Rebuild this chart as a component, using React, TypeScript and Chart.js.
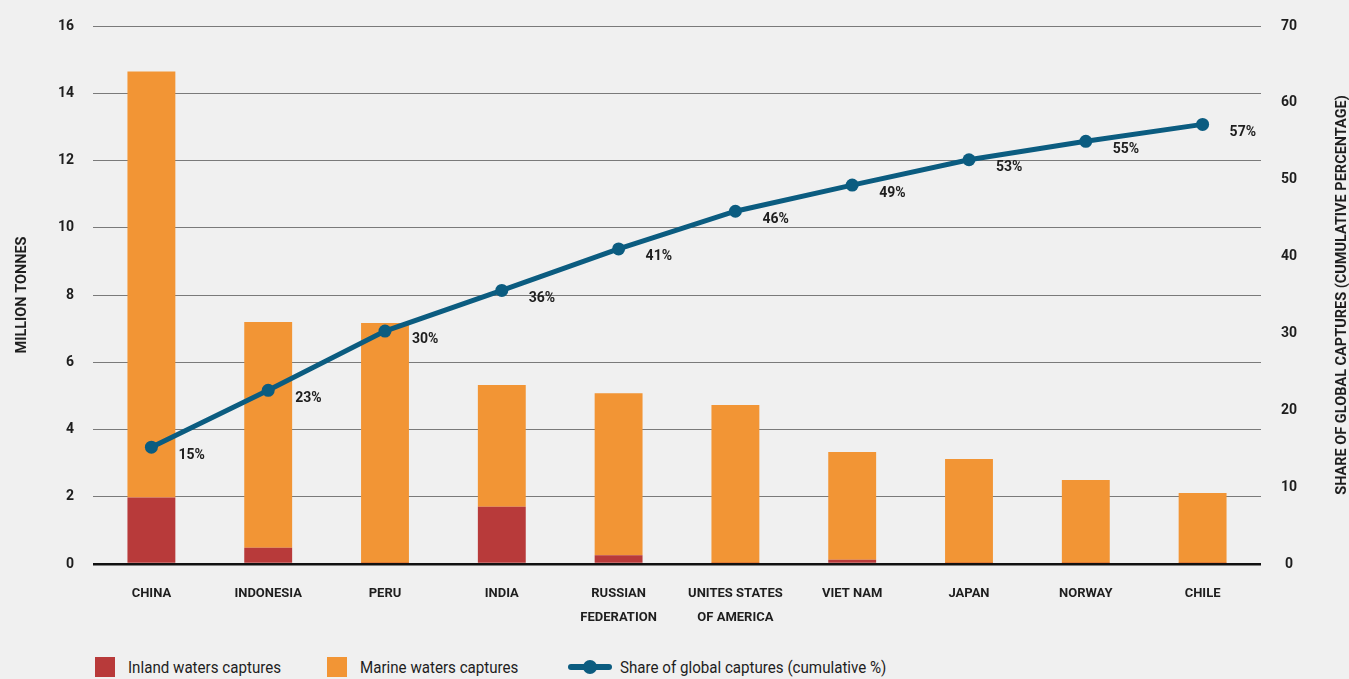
import React, { useEffect, useRef } from "react";
import { Chart, registerables } from "chart.js";

Chart.register(...registerables);

const categories: (string | string[])[] = [
  "CHINA",
  "INDONESIA",
  "PERU",
  "INDIA",
  ["RUSSIAN", "FEDERATION"],
  ["UNITES STATES", "OF AMERICA"],
  "VIET NAM",
  "JAPAN",
  "NORWAY",
  "CHILE",
];
const inlandCaptures = [1.98, 0.48, 0.03, 1.7, 0.26, 0.03, 0.13, 0.03, 0.03, 0.03];
const marineCaptures = [12.67, 6.72, 7.14, 3.62, 4.82, 4.7, 3.2, 3.09, 2.47, 2.08];
const cumulativeShare = [15.2, 22.6, 30.3, 35.6, 41.0, 45.9, 49.3, 52.6, 55.0, 57.2];
const cumulativeLabels = ["15%", "23%", "30%", "36%", "41%", "46%", "49%", "53%", "55%", "57%"];
const leftTicks = [0, 2, 4, 6, 8, 10, 12, 14, 16];
const rightTicks = [0, 10, 20, 30, 40, 50, 60, 70];

const FONT = "Roboto, 'Liberation Sans', sans-serif";
const TEXT = "#1e1e1e";
const RED = "#b83a3a";
const ORANGE = "#f29535";
const BLUE = "#0b5c80";
const BG = "#f0f0f0";

const pointLabelPlugin = {
  id: "pointLabels",
  afterDatasetsDraw(chart: any) {
    const meta = chart.getDatasetMeta(2);
    const ctx = chart.ctx;
    ctx.save();
    ctx.font = `bold 14px ${FONT}`;
    ctx.fillStyle = TEXT;
    ctx.textAlign = "left";
    ctx.textBaseline = "middle";
    meta.data.forEach((pt: any, i: number) => {
      ctx.fillText(cumulativeLabels[i], pt.x + 27, pt.y + 8);
    });
    ctx.restore();
  },
};

const rightTitlePlugin = {
  id: "rightTitle",
  afterDraw(chart: any) {
    const { ctx, chartArea } = chart;
    ctx.save();
    ctx.translate(1342, (chartArea.top + chartArea.bottom) / 2);
    ctx.rotate(-Math.PI / 2);
    ctx.font = `bold 14.5px ${FONT}`;
    ctx.fillStyle = TEXT;
    ctx.textAlign = "center";
    ctx.textBaseline = "middle";
    ctx.fillText("SHARE OF GLOBAL CAPTURES (CUMULATIVE PERCENTAGE)", 0, 0);
    ctx.restore();
  },
};

export default function App() {
  const ref = useRef<HTMLCanvasElement>(null);

  useEffect(() => {
    if (!ref.current) return;
    const chart = new Chart(ref.current, {
      type: "bar",
      data: {
        labels: categories,
        datasets: [
          {
            type: "bar",
            label: "Inland waters captures",
            data: inlandCaptures,
            backgroundColor: RED,
            yAxisID: "y",
            stack: "s",
            order: 2,
            barPercentage: 0.41,
            categoryPercentage: 1,
          },
          {
            type: "bar",
            label: "Marine waters captures",
            data: marineCaptures,
            backgroundColor: ORANGE,
            yAxisID: "y",
            stack: "s",
            order: 2,
            barPercentage: 0.41,
            categoryPercentage: 1,
          },
          {
            type: "line",
            label: "Share of global captures (cumulative %)",
            data: cumulativeShare,
            borderColor: BLUE,
            backgroundColor: BLUE,
            borderWidth: 5,
            pointRadius: 6.5,
            pointBackgroundColor: BLUE,
            pointBorderWidth: 0,
            yAxisID: "y1",
            order: 0,
            tension: 0,
          } as any,
        ],
      },
      options: {
        animation: false,
        responsive: true,
        maintainAspectRatio: false,
        layout: { padding: { top: 26, left: 0, right: 0, bottom: 0 } },
        plugins: {
          legend: { display: false },
          tooltip: { enabled: false },
        },
        scales: {
          x: {
            stacked: true,
            grid: { display: false, drawTicks: false },
            border: { display: false },
            ticks: {
              color: TEXT,
              font: { family: FONT, size: 13, weight: "bold", lineHeight: 1.85 },
              padding: 18,
              maxRotation: 0,
              autoSkip: false,
            },
            afterFit(scale: any) {
              scale.height = 76;
            },
          },
          y: {
            stacked: true,
            position: "left",
            min: 0,
            max: 16,
            afterBuildTicks(scale: any) {
              scale.ticks = leftTicks.map((v) => ({ value: v }));
            },
            grid: {
              drawTicks: false,
              color: (c: any) => (c.tick && c.tick.value === 0 ? "#111" : "#7a7a7a"),
              lineWidth: (c: any) => (c.tick && c.tick.value === 0 ? 2.5 : 1),
            },
            border: { display: false },
            ticks: {
              color: TEXT,
              font: { family: FONT, size: 14, weight: "bold", lineHeight: 0.9 },
              padding: 19,
            },
            title: {
              display: true,
              text: "MILLION TONNES",
              color: TEXT,
              font: { family: FONT, size: 14.5, weight: "bold" },
              padding: { top: 14, bottom: 0 },
            },
            afterFit(scale: any) {
              scale.width = 93;
            },
          },
          y1: {
            position: "right",
            min: 0,
            max: 70,
            afterBuildTicks(scale: any) {
              scale.ticks = rightTicks.map((v) => ({ value: v }));
            },
            grid: { display: false, drawTicks: false },
            border: { display: false },
            ticks: {
              color: TEXT,
              font: { family: FONT, size: 14, weight: "bold", lineHeight: 0.8 },
              padding: 20,
              crossAlign: "center",
            },
            afterFit(scale: any) {
              scale.width = 88;
            },
          },
        },
      },
      plugins: [pointLabelPlugin, rightTitlePlugin],
    });
    return () => chart.destroy();
  }, []);

  const legendText: React.CSSProperties = {
    position: "absolute",
    top: 656,
    fontFamily: FONT,
    fontSize: 17,
    color: TEXT,
    lineHeight: "22px",
    whiteSpace: "nowrap",
    transform: "scaleX(0.89)",
    transformOrigin: "left center",
  };
  const sq = (left: number, color: string): React.CSSProperties => ({
    position: "absolute",
    left,
    top: 657,
    width: 20,
    height: 20,
    background: color,
  });

  return (
    <div style={{ position: "fixed", left: 0, top: 0, width: 1349, height: 679, background: BG, overflow: "hidden" }}>
      <div style={{ position: "absolute", left: 0, top: 0, width: 1349, height: 640 }}>
        <canvas ref={ref} />
      </div>
      <div style={sq(95, RED)} />
      <div style={{ ...legendText, left: 128 }}>Inland waters captures</div>
      <div style={sq(327, ORANGE)} />
      <div style={{ ...legendText, left: 360 }}>Marine waters captures</div>
      <div style={{ position: "absolute", left: 568, top: 664, width: 44, height: 6, borderRadius: 3, background: BLUE }} />
      <div style={{ position: "absolute", left: 583, top: 660, width: 14, height: 14, borderRadius: 7, background: BLUE }} />
      <div style={{ ...legendText, left: 620 }}>Share of global captures (cumulative %)</div>
    </div>
  );
}
